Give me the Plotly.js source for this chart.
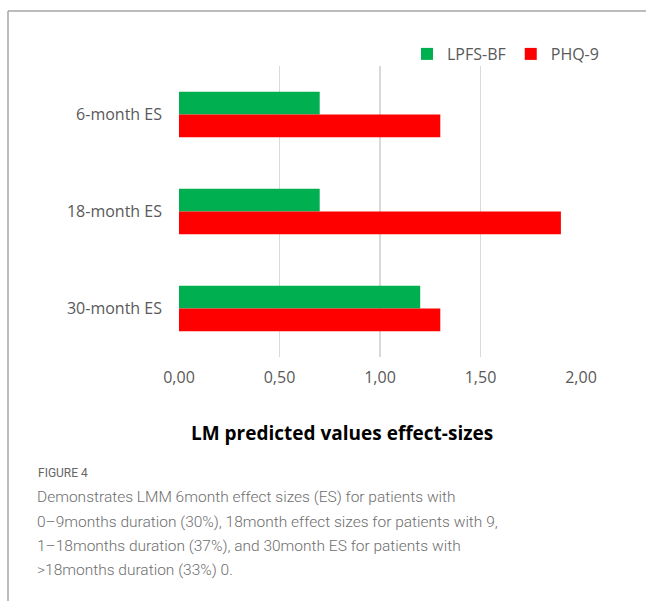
<!DOCTYPE html>
<html>
<head>
<meta charset="utf-8">
<script src="https://cdn.plot.ly/plotly-3.0.1.min.js"></script>
<style>
  html, body { margin: 0; padding: 0; background: #fff; }
  #chart { width: 646px; height: 601px; }
</style>
</head>
<body>
<div id="chart"></div>
<script>
// Effect-size categories (top to bottom)
const categories = ['6-month ES', '18-month ES', '30-month ES'];
// LM predicted effect sizes per measure
const lpfsValues = [0.70, 0.70, 1.20];
const phqValues  = [1.30, 1.90, 1.30];
const seriesNames = ['LPFS-BF', 'PHQ-9'];
const xTickValues = [0, 0.5, 1.0, 1.5, 2.0];

const axisTitle = 'LM predicted values effect-sizes';
const figureLabel = 'FIGURE 4';
const captionLines = [
  'Demonstrates LMM 6month effect sizes (ES) for patients with',
  '0\u20139months duration (30%), 18month effect sizes for patients with 9,',
  '1\u201318months duration (37%), and 30month ES for patients with',
  '>18months duration (33%) 0.'
];

const W = 646, H = 601;
const M = { l: 179, r: 65, t: 66, b: 244 };
const PW = W - M.l - M.r, PH = H - M.t - M.b;
// pixel -> paper coordinate helpers
const px = x => (x - M.l) / PW;
const py = y => (H - M.b - y) / PH;

const textGray = '#595959';
const baseFont = 'Open Sans, Noto Sans, sans-serif';
const captionFont = 'Roboto, Noto Sans, sans-serif';

const traces = [
  { type: 'bar', orientation: 'h', name: seriesNames[0], y: categories, x: lpfsValues,
    marker: { color: '#00B050' } },
  { type: 'bar', orientation: 'h', name: seriesNames[1], y: categories, x: phqValues,
    marker: { color: '#FF0000' } }
];

const annotations = [
  { xref: 'paper', yref: 'paper', x: px(342), y: py(433), xanchor: 'center', yanchor: 'middle',
    text: '<b>' + axisTitle + '</b>', showarrow: false,
    font: { family: baseFont, size: 19, color: '#000' } },
  { xref: 'paper', yref: 'paper', x: px(36), y: py(473), xanchor: 'left', yanchor: 'middle',
    text: figureLabel, showarrow: false,
    font: { family: captionFont, size: 12, color: '#666' } }
];
const lineY = [497, 522, 546, 570];
captionLines.forEach((t, i) => {
  annotations.push({ xref: 'paper', yref: 'paper', x: px(35), y: py(lineY[i]),
    xanchor: 'left', yanchor: 'middle', text: t, showarrow: false,
    font: { family: captionFont, size: 15.5, color: '#6e6e6e', weight: 300 } });
});

const frameColor = '#a6a6a6';
const shapes = [
  { type: 'line', xref: 'paper', yref: 'paper', x0: px(8), x1: px(W + 5), y0: py(11), y1: py(11),
    line: { color: frameColor, width: 1.5 } },
  { type: 'line', xref: 'paper', yref: 'paper', x0: px(8), x1: px(8), y0: py(11), y1: py(H + 5),
    line: { color: frameColor, width: 1.5 } }
];

const layout = {
  width: W, height: H,
  margin: M,
  paper_bgcolor: '#fff', plot_bgcolor: '#fff',
  separators: ', ',
  barmode: 'group',
  bargap: 0.53,
  bargroupgap: 0,
  font: { family: baseFont, color: textGray, size: 16 },
  xaxis: {
    range: [0, 2.0], tickvals: xTickValues, tickformat: '.2f',
    showgrid: true, gridcolor: '#d9d9d9', gridwidth: 1.5,
    zeroline: false, showline: false, ticks: '',
    ticklabelstandoff: 9,
    tickfont: { family: baseFont, size: 16, color: textGray },
    fixedrange: true
  },
  yaxis: {
    autorange: 'reversed', showgrid: false, zeroline: false, showline: false, ticks: '',
    ticklabelstandoff: 16,
    tickfont: { family: baseFont, size: 16, color: textGray },
    fixedrange: true
  },
  legend: {
    orientation: 'h', x: px(604), xanchor: 'right', y: py(54), yanchor: 'middle',
    font: { family: baseFont, size: 16, color: textGray },
    bgcolor: 'rgba(0,0,0,0)', itemwidth: 30, traceorder: 'normal'
  },
  showlegend: true,
  annotations: annotations,
  shapes: shapes
};

Plotly.newPlot('chart', traces, layout, { displayModeBar: false, staticPlot: true });
</script>
</body>
</html>
